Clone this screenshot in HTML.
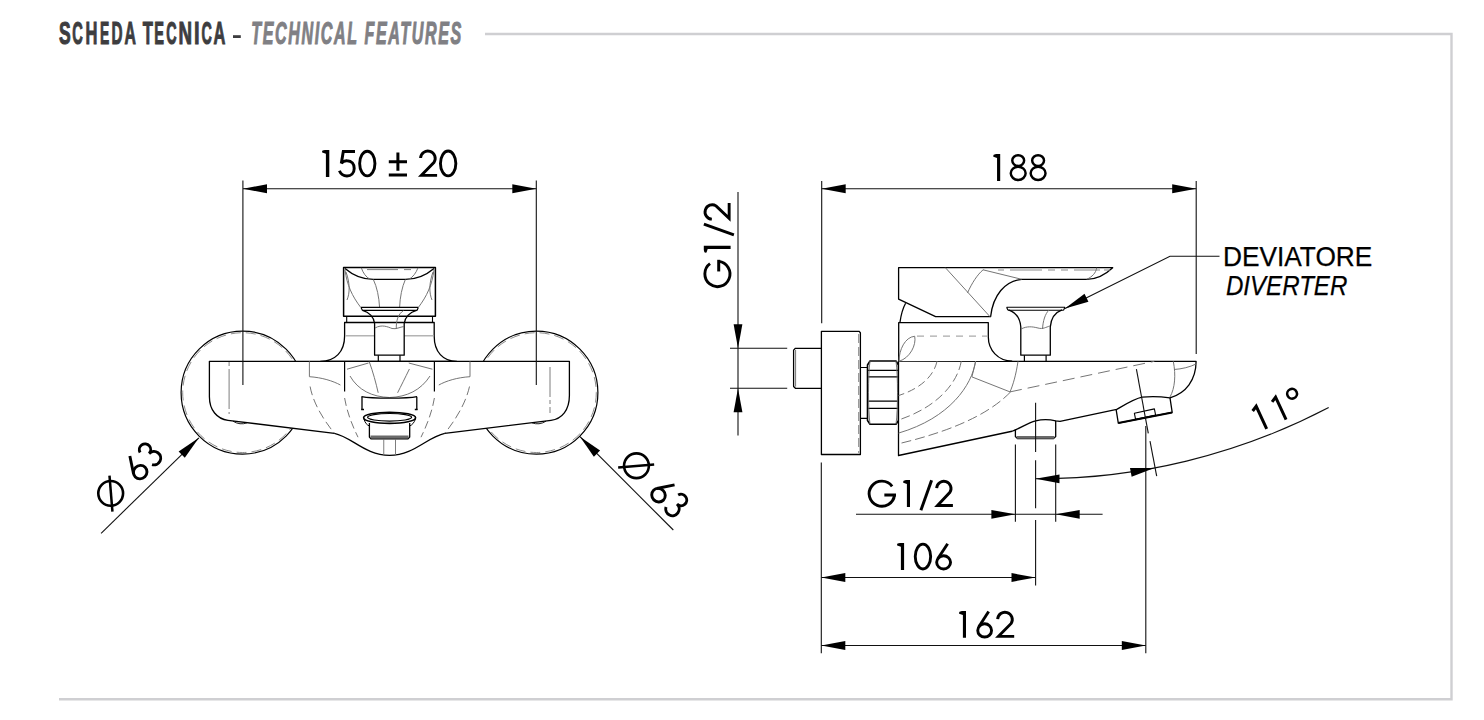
<!DOCTYPE html>
<html><head><meta charset="utf-8">
<style>
html,body{margin:0;padding:0;background:#fff;width:1484px;height:720px;overflow:hidden;}
svg{position:absolute;left:0;top:0;}
</style></head>
<body>
<svg width="1484" height="720" viewBox="0 0 1484 720">
<g id="header">
<g font-family="Liberation Sans" font-weight="bold" fill="#3d3d3f" stroke="#3d3d3f" stroke-width="1.1"><text transform="translate(59.05,44.1) scale(0.567,1)" font-size="30.9">S</text><text transform="translate(72.25,44.1) scale(0.475,1)" font-size="30.9">C</text><text transform="translate(85.45,44.1) scale(0.534,1)" font-size="30.9">H</text><text transform="translate(99.92,44.1) scale(0.450,1)" font-size="30.9">E</text><text transform="translate(111.42,44.1) scale(0.496,1)" font-size="30.9">D</text><text transform="translate(124.46,44.1) scale(0.511,1)" font-size="30.9">A</text><text transform="translate(142.86,44.1) scale(0.539,1)" font-size="30.9">T</text><text transform="translate(154.27,44.1) scale(0.473,1)" font-size="30.9">E</text><text transform="translate(166.36,44.1) scale(0.465,1)" font-size="30.9">C</text><text transform="translate(178.60,44.1) scale(0.606,1)" font-size="30.9">N</text><text transform="translate(193.90,44.1) scale(0.652,1)" font-size="30.9">I</text><text transform="translate(201.46,44.1) scale(0.465,1)" font-size="30.9">C</text><text transform="translate(213.44,44.1) scale(0.531,1)" font-size="30.9">A</text></g><rect x="233" y="35.2" width="7.8" height="2.8" fill="#3d3d3f"/><text transform="translate(251.3,44.1) scale(0.52,1)" font-family="Liberation Sans" font-weight="bold" font-style="italic" font-size="30.9" fill="#808084" stroke="#808084" stroke-width="1.1" textLength="403.85" lengthAdjust="spacing">TECHNICAL FEATURES</text>
</g>
<path d="M485 34 H1451.5 V699.3 H59" fill="none" stroke="#cfcfd2" stroke-width="2.4"/>
<g id="drawing" stroke-linejoin="round">
<circle cx="242.6" cy="392.6" r="61.5" fill="#fff" stroke="#000" stroke-width="1.2"/>
<circle cx="242.6" cy="392.6" r="59.9" fill="none" stroke="#6e6e6e" stroke-width="0.8" stroke-dasharray="10 5"/>
<circle cx="536.4" cy="392.6" r="61.5" fill="#fff" stroke="#000" stroke-width="1.2"/>
<circle cx="536.4" cy="392.6" r="59.9" fill="none" stroke="#6e6e6e" stroke-width="0.8" stroke-dasharray="10 5"/>
<path d="M320.5 361.3C335 361.3 344.6 352 344.6 336V322.5H434.2V336C434.2 352 443 361.3 456.7 361.3Z" fill="#fff" stroke="#000" stroke-width="1.3"/>
<path d="M209.4 361.3H569.4V395.5C569.4 410 562 419 551 420.3L444.8 433.3C427 437 414 455.3 389.6 455.3C365 455.3 352 437 334.4 433.3L228 420.3C217 419 209.4 410 209.4 396.7Z" fill="#fff" stroke="#000" stroke-width="1.3"/>
<path d="M233 421.2Q240 425.5 247 422.8" fill="none" stroke="#000" stroke-width="0.9"/>
<path d="M532 422.8Q539 425.5 546 421.2" fill="none" stroke="#000" stroke-width="0.9"/>
<path d="M229.1 362V414" fill="none" stroke="#6e6e6e" stroke-width="0.9" stroke-dasharray="4 3 40 3"/>
<path d="M550 367V413" fill="none" stroke="#6e6e6e" stroke-width="0.9" stroke-dasharray="30 3 4 3"/>
<path d="M346.7 316.2V322.5M432.5 316.2V322.5" fill="none" stroke="#000" stroke-width="1.1"/>
<path d="M343.6 267.5H435.4V316.25H343.6Z" fill="#fff" stroke="#000" stroke-width="1.5"/>
<path d="M345 268.5C355 277 365 279.4 373.3 279.4H405.4C414 279.4 424 277 434 268.5" fill="none" stroke="#000" stroke-width="1.4"/>
<path d="M367 269.6H398M404 269.6H411" fill="none" stroke="#6e6e6e" stroke-width="0.9"/>
<path d="M361.3 267.8C363 273 366 277 370 279.3M418 267.8C416 273 413 277 409 279.3" fill="none" stroke="#6e6e6e" stroke-width="0.95"/>
<path d="M373.3 279.4C377 287 379 297 379.6 307.5M405.4 279.4C402 287 400 297 399.6 307.5" fill="none" stroke="#6e6e6e" stroke-width="0.95"/>
<path d="M345 270C347 285 352 296 360.8 307.5M434 270C432 285 427 296 418.3 307.5" fill="none" stroke="#6e6e6e" stroke-width="0.95"/>
<path d="M346 272C350 283 350 293 347 300M433 272C429 283 429 293 432 300" fill="none" stroke="#6e6e6e" stroke-width="0.95"/>
<path d="M345.5 335.8H374.6M404.2 335.8H433.5" fill="none" stroke="#b4b4b4" stroke-width="1.5"/>
<path d="M361 307.4H418.3M362.5 310.4H417M361 307.4L362.5 310.4M418.3 307.4L417 310.4" fill="none" stroke="#000" stroke-width="1.15"/>
<path d="M362.5 310.3C369 312 374 317 374.6 323.5V355.2H404.2V323.5C405 317 410 312 416.5 310.3" fill="none" stroke="#000" stroke-width="1.3"/>
<path d="M375 328C382 324 388 327 392 328.5C396 329.5 400 327 404 326.5" fill="none" stroke="#6e6e6e" stroke-width="0.95"/>
<path d="M378.3 355.2V361.3M400 355.2V361.3" fill="none" stroke="#000" stroke-width="1.2"/>
<path d="M403.5 310.6C398 314 396 321 396.3 329" fill="none" stroke="#6e6e6e" stroke-width="0.95"/>
<path d="M344.6 361.3V391.4M434.4 361.3V391.4" fill="none" stroke="#000" stroke-width="1.2"/>
<path d="M344.6 398C347 412 352 425 358 437.2M434.4 398C432 412 427 425 421 437.2" fill="none" stroke="#6e6e6e" stroke-width="0.95" stroke-dasharray="8 4"/>
<path d="M347 369.2L368.5 363M408.75 363L432.4 369.2" fill="none" stroke="#6e6e6e" stroke-width="0.95"/>
<path d="M350 376C358 390 372 397 389.6 397.5C407 397 421 390 430 376" fill="none" stroke="#6e6e6e" stroke-width="0.95"/>
<path d="M369.2 361.5C373 372 376 383 378.2 392.8M409.4 369C405 378 401 386 397.6 392.8" fill="none" stroke="#6e6e6e" stroke-width="0.95"/>
<path d="M309.4 361.3V376.7C322 377.5 333 381 340.4 385M470 361.3V376.7C457 377.5 446 381 438.8 385" fill="none" stroke="#6e6e6e" stroke-width="0.95"/>
<path d="M310.1 386.5C313 402 322 418 334.4 433.3M469.5 386.5C466 402 457 418 444.8 433.3" fill="none" stroke="#6e6e6e" stroke-width="0.95" stroke-dasharray="9 4"/>
<path d="M361.5 396.6C372 398.6 407 398.6 417 396.6" fill="none" stroke="#000" stroke-width="1.3"/>
<path d="M362 396.8V409.8M416.8 396.8V409.8" fill="none" stroke="#000" stroke-width="1.3"/>
<path d="M361.2 409.5H364M414.8 409.5H417.6" fill="none" stroke="#000" stroke-width="1.6"/>
<ellipse cx="389.6" cy="417.8" rx="26" ry="5.6" fill="#fff" stroke="#000" stroke-width="1.6"/>
<ellipse cx="389.6" cy="417.3" rx="22" ry="3.8" fill="none" stroke="#000" stroke-width="1.2"/>
<path d="M364 419C365 423 367 425 369.4 426M415.5 419C414 423 412 425 409.7 426" fill="none" stroke="#000" stroke-width="1"/>
<path d="M369.4 423V437L371 438.9H408L409.7 437V423" fill="none" stroke="#000" stroke-width="1.3"/>
<path d="M370.5 436.8H408.5" fill="none" stroke="#6a6a6a" stroke-width="2.8"/>
<path d="M383.75 439V455M395.5 439V455" fill="none" stroke="#6e6e6e" stroke-width="0.9"/>
<path d="M821.4 348.3H795.4L793.6 350.1V386.5L795.4 388.3H821.4" fill="none" stroke="#000" stroke-width="1.3"/>
<path d="M795.6 350V386.6" fill="none" stroke="#6e6e6e" stroke-width="0.95"/>
<path d="M821.4 331.3H859L860.4 332.7V454.5H821.4Z" fill="#fff" stroke="#000" stroke-width="1.3"/>
<path d="M858.7 334V453" fill="none" stroke="#8a8a8a" stroke-width="1.1" stroke-dasharray="9 4"/>
<path d="M860.4 367.5H867.5M860.4 418.3H867.5" fill="none" stroke="#000" stroke-width="1.2"/>
<path d="M870 361H896L898.5 365V420.5L896 424.2H870L867.5 420.5V365Z" fill="#fff" stroke="#000" stroke-width="1.6"/>
<path d="M868 370.4H898M868 376.9H898M868 401.1H898M868 408.3H898" fill="none" stroke="#000" stroke-width="1.3"/>
<path d="M870 361C868 375 868 410 870 424.2M896 361C898 375 898 410 896 424.2" fill="none" stroke="#6e6e6e" stroke-width="0.95"/>
<path d="M898.5 361.3H1196.1C1196 380 1186 393 1170 397.8C1160 396.5 1150 396.3 1142.2 397.2C1135 398.5 1126 404 1116.7 409.4L1060 421.3L1055.7 420.8C1050 419.6 1042 419.4 1035.7 420.8C1027 423 1020 428.5 1012 431.25L898.5 455.5Z" fill="#fff" stroke="#000" stroke-width="1.3"/>
<path d="M1116.1 409.4L1118.3 423.1L1172.2 412.4L1170 397.8" fill="none" stroke="#000" stroke-width="1.3"/>
<path d="M1118.3 423.1L1172.2 412.4" fill="none" stroke="#000" stroke-width="2"/>
<path d="M1134.4 413.3L1154.4 408.9L1155.6 415L1135.6 419.4Z" fill="none" stroke="#000" stroke-width="1.1"/>
<path d="M1015.4 429.6V436.5L1017.5 438.6H1053.5L1055.7 436.5V420.8" fill="none" stroke="#000" stroke-width="1.3"/>
<path d="M1016.8 437.4H1054.2" fill="none" stroke="#6a6a6a" stroke-width="2.9"/>
<path d="M937 361.3C934 375 922 388 898.5 395.6" fill="none" stroke="#6e6e6e" stroke-width="0.95" stroke-dasharray="8 4"/>
<path d="M961.25 361.3C957 385 935 408 898.5 420" fill="none" stroke="#6e6e6e" stroke-width="0.95" stroke-dasharray="9 4"/>
<path d="M975.6 361.3C972 385 950 418 898.5 433.1" fill="none" stroke="#6e6e6e" stroke-width="0.95"/>
<path d="M1010.6 391.9C995 408 965 428 898.5 443.75" fill="none" stroke="#6e6e6e" stroke-width="0.95" stroke-dasharray="10 4"/>
<path d="M975.6 361.3L971.9 376.9L1010 391.9" fill="none" stroke="#6e6e6e" stroke-width="0.95"/>
<path d="M1018 361.3C1016 375 1013 385 1010 391.9" fill="none" stroke="#6e6e6e" stroke-width="0.95"/>
<path d="M1010 391.9L1154.4 361.3" fill="none" stroke="#6e6e6e" stroke-width="0.95" stroke-dasharray="12 6"/>
<path d="M1173.3 361.3C1176 375 1175 388 1170 397" fill="none" stroke="#6e6e6e" stroke-width="0.95"/>
<path d="M1174 369.5C1182 369 1190 367 1196 364" fill="none" stroke="#6e6e6e" stroke-width="0.95"/>
<path d="M898.7 361.3V322.6H988.3V336.7C988.3 350 998 361 1012.2 361.1" fill="#fff" stroke="#000" stroke-width="1.3"/>
<path d="M899 361.3C899 350 905 337 914.7 336.25C916.5 345 910 358 899 361.3" fill="none" stroke="#6e6e6e" stroke-width="0.95"/>
<path d="M917 336.1H988" fill="none" stroke="#aaa" stroke-width="1.1" stroke-dasharray="7 6"/>
<path d="M898.6 267.7H1112.7C1105 275 1095 279.3 1086.7 279.3H1021.7C1005 281 993 295 990.6 316.7H935.6L898.6 299.2Z" fill="#fff" stroke="#000" stroke-width="1.3"/>
<path d="M900 322.2C901 315 903 308 905.6 303.3" fill="none" stroke="#000" stroke-width="1.3"/>
<path d="M945.4 267.7L990 316.7" fill="none" stroke="#6e6e6e" stroke-width="0.95"/>
<path d="M967.5 292.9C972 283 977 275 983.3 269.6" fill="none" stroke="#6e6e6e" stroke-width="0.95"/>
<path d="M983 269.8L1021.7 279.3" fill="none" stroke="#6e6e6e" stroke-width="0.95"/>
<path d="M998 270H1111" fill="none" stroke="#8c8c8c" stroke-width="1.2" stroke-dasharray="6 6 32 6 7 6 7 6 26 4"/>
<path d="M1096.7 267.7C1096 273 1092 277 1086.7 279.3" fill="none" stroke="#6e6e6e" stroke-width="0.95"/>
<path d="M1006.6 307.2H1065M1008 310.2H1063.5M1006.6 307.2L1008 310.2M1065 307.2L1063.5 310.2" fill="none" stroke="#000" stroke-width="1.15"/>
<path d="M1008.5 309.8C1015 312 1020 318 1020.8 327V355.2H1050.3V327C1051 318 1056 312 1062 309.8" fill="none" stroke="#000" stroke-width="1.3"/>
<path d="M1021 329C1027 326 1032 326.5 1038 328C1043 329.5 1046 327 1050 326" fill="none" stroke="#6e6e6e" stroke-width="0.95"/>
<path d="M1049 310C1045 314 1043 321 1042.5 329" fill="none" stroke="#6e6e6e" stroke-width="0.95"/>
<path d="M1024.4 355.2V361.3M1046.1 355.2V361.3" fill="none" stroke="#000" stroke-width="1.2"/>
</g>
<g id="dims" font-family="Liberation Sans" fill="#000">
<path d="M242.9 180.6V385" fill="none" stroke="#111" stroke-width="1.1"/>
<path d="M536.3 180.6V385" fill="none" stroke="#111" stroke-width="1.1"/>
<path d="M243 188.75H536.3" fill="none" stroke="#111" stroke-width="1.1"/>
<path d="M243.00 188.75L267.00 184.35L267.00 193.15Z" fill="#000" stroke="none"/>
<path d="M536.30 188.75L512.30 193.15L512.30 184.35Z" fill="#000" stroke="none"/>
<path d="M101.1 533.3L198.9 437.8" fill="none" stroke="#111" stroke-width="1.1"/>
<path d="M198.90 437.80L184.80 457.72L178.65 451.42Z" fill="#000" stroke="none"/>
<path d="M580 436.7L673.3 530" fill="none" stroke="#111" stroke-width="1.1"/>
<path d="M580.00 436.70L600.08 450.56L593.86 456.78Z" fill="#000" stroke="none"/>
<path d="M738 192V435.6" fill="none" stroke="#111" stroke-width="1.1"/>
<path d="M738.00 348.30L733.60 324.30L742.40 324.30Z" fill="#000" stroke="none"/>
<path d="M738.00 388.30L742.40 412.30L733.60 412.30Z" fill="#000" stroke="none"/>
<path d="M730 348.3H787.2" fill="none" stroke="#111" stroke-width="1.1"/>
<path d="M730 388.3H787.2" fill="none" stroke="#111" stroke-width="1.1"/>
<path d="M821.7 181V323.3" fill="none" stroke="#111" stroke-width="1.1"/>
<path d="M1196.2 181V354" fill="none" stroke="#111" stroke-width="1.1"/>
<path d="M821.7 188.75H1196.2" fill="none" stroke="#111" stroke-width="1.1"/>
<path d="M821.70 188.75L845.70 184.35L845.70 193.15Z" fill="#000" stroke="none"/>
<path d="M1196.20 188.75L1172.20 193.15L1172.20 184.35Z" fill="#000" stroke="none"/>
<path d="M1065 308.5L1170 256.25H1219.5" fill="none" stroke="#111" stroke-width="1.1"/>
<path d="M1065.00 308.50L1084.53 293.87L1088.45 301.75Z" fill="#000" stroke="none"/>
<text x="1222.98" y="266.10" font-size="27.04" textLength="149.33" lengthAdjust="spacingAndGlyphs" stroke="#000" stroke-width="0.25">DEVIATORE</text>
<text x="1225.98" y="294.50" font-size="27.85" textLength="121.33" lengthAdjust="spacingAndGlyphs" font-style="italic" stroke="#000" stroke-width="0.25">DIVERTER</text>
<path d="M856 514.3H1102.6" fill="none" stroke="#111" stroke-width="1.1"/>
<path d="M1015.40 514.30L991.40 518.70L991.40 509.90Z" fill="#000" stroke="none"/>
<path d="M1055.70 514.30L1079.70 509.90L1079.70 518.70Z" fill="#000" stroke="none"/>
<path d="M1015.4 444.6V521.8" fill="none" stroke="#111" stroke-width="1.1"/>
<path d="M1055.7 444.6V521.8" fill="none" stroke="#111" stroke-width="1.1"/>
<path d="M821.3 577.5H1035.5" fill="none" stroke="#111" stroke-width="1.1"/>
<path d="M821.30 577.50L845.30 573.10L845.30 581.90Z" fill="#000" stroke="none"/>
<path d="M1035.50 577.50L1011.50 581.90L1011.50 573.10Z" fill="#000" stroke="none"/>
<path d="M821.3 645.5H1145.8" fill="none" stroke="#111" stroke-width="1.1"/>
<path d="M821.30 645.50L845.30 641.10L845.30 649.90Z" fill="#000" stroke="none"/>
<path d="M1145.80 645.50L1121.80 649.90L1121.80 641.10Z" fill="#000" stroke="none"/>
<path d="M821.3 462.5V653.3" fill="none" stroke="#111" stroke-width="1.1"/>
<path d="M1145.8 426.1V653.3" fill="none" stroke="#111" stroke-width="1.1"/>
<path d="M1035.6 402.8V452" fill="none" stroke="#111" stroke-width="1.1"/>
<path d="M1035.6 460.3V508.3" fill="none" stroke="#111" stroke-width="1.1"/>
<path d="M1035.6 520V585.4" fill="none" stroke="#111" stroke-width="1.1"/>
<path d="M1035.50 478.69A623 623 0 0 0 1328.70 407.51" fill="none" stroke="#111" stroke-width="1.1"/>
<path d="M1035.50 478.69L1059.53 474.44L1059.47 483.24Z" fill="#000" stroke="none"/>
<path d="M1154.40 468.01L1131.62 476.76L1130.00 468.11Z" fill="#000" stroke="none"/>
<g transform="translate(1266.25,428.3) rotate(-25)" fill="none" stroke="#000" stroke-width="3"><path d="M-5 -21.4L0.2 -24.2V0.6M16.4 -21.4L21.6 -24.2V0.6"/><circle cx="38" cy="-20.4" r="4.9" stroke-width="2.6"/></g>
<path d="M1136.4 369.1L1148.3 433.3" fill="none" stroke="#111" stroke-width="1.1"/>
<path d="M1150 441.1L1156.7 476.1" fill="none" stroke="#111" stroke-width="1.1"/>
<g transform="translate(139.6,483.4) rotate(-45)"><circle cx="-27.5" cy="-13.4" r="12.4" fill="none" stroke="#000" stroke-width="2.6"/><path d="M-39.2 0.8L-15.8 -26.8" stroke="#000" stroke-width="2.5" fill="none"/><g transform="translate(0,0)"><ellipse cx="8.40" cy="-7.55" rx="6.95" ry="6.60" fill="none" stroke="#000" stroke-width="2.9"/><path d="M12.43 -26.23L2.57 -11.14" stroke="#000" stroke-width="2.9" fill="none"/><path d="M22.24 -21.53A5.69 5.69 0 1 1 27.74 -14.38H28.04A6.71 6.71 0 1 1 22.11 -4.51" stroke="#000" stroke-width="2.9" fill="none"/></g></g>
<g transform="translate(648.7,492.4) rotate(45)"><circle cx="-27.5" cy="-10.2" r="12.4" fill="none" stroke="#000" stroke-width="2.6"/><path d="M-39.2 4L-15.8 -23.5" stroke="#000" stroke-width="2.5" fill="none"/><g transform="translate(0.5,2.6)"><ellipse cx="8.40" cy="-7.55" rx="6.95" ry="6.60" fill="none" stroke="#000" stroke-width="2.9"/><path d="M12.43 -26.23L2.57 -11.14" stroke="#000" stroke-width="2.9" fill="none"/><path d="M22.24 -21.53A5.69 5.69 0 1 1 27.74 -14.38H28.04A6.71 6.71 0 1 1 22.11 -4.51" stroke="#000" stroke-width="2.9" fill="none"/></g></g>
<path d="M329.30 149.90L329.30 177.10L325.90 177.10L325.90 153.80L322.20 152.60L322.00 151.80L322.50 150.50L324.90 149.90Z" fill="#000" stroke="none"/>
<path d="M355 151.5H343.3L341.3 163.4" stroke="#000" stroke-width="2.95" fill="none" stroke-linejoin="miter"/>
<path d="M341.3 163.4C343 161.3 345 160.6 347.1 160.8C351.8 160.8 354.2 164.3 354.2 168.4C354.2 173 351 175.9 347 175.9C343.3 175.9 340.7 173.8 339.4 170.7" stroke="#000" stroke-width="2.95" fill="none"/>
<ellipse cx="367.30" cy="163.55" rx="7.65" ry="12.30" fill="none" stroke="#000" stroke-width="2.9"/>
<path d="M397.9 152.6V170.8M388.8 161.7H407M388.8 175.05H407" stroke="#000" stroke-width="3" fill="none"/>
<path d="M420.56 157.99A7.32 7.32 0 1 1 434.08 162.25L421.40 175.35H437.10" stroke="#000" stroke-width="2.9" fill="none" stroke-linejoin="miter" stroke-miterlimit="10"/>
<ellipse cx="448.15" cy="163.45" rx="7.70" ry="12.40" fill="none" stroke="#000" stroke-width="2.9"/>
<path d="M1000.20 154.10L1000.20 180.90L997.05 180.90L997.05 158.00L993.40 156.80L993.20 156.00L993.70 154.70L996.05 154.10Z" fill="#000" stroke="none"/>
<ellipse cx="1018.20" cy="160.60" rx="5.93" ry="5.43" fill="none" stroke="#000" stroke-width="2.45"/><ellipse cx="1018.20" cy="173.35" rx="7.43" ry="6.57" fill="none" stroke="#000" stroke-width="2.45"/>
<ellipse cx="1038.10" cy="160.60" rx="5.93" ry="5.43" fill="none" stroke="#000" stroke-width="2.45"/><ellipse cx="1038.10" cy="173.35" rx="7.43" ry="6.57" fill="none" stroke="#000" stroke-width="2.45"/>
<path d="M892.12 486.32A12.70 12.55 0 1 0 894.48 495.01" stroke="#000" stroke-width="2.9" fill="none"/><path d="M884.35 495.01H896.00" stroke="#000" stroke-width="3.0" fill="none"/>
<path d="M910.00 480.10L910.00 506.90L906.90 506.90L906.90 484.00L903.30 482.80L903.10 482.00L903.60 480.70L905.90 480.10Z" fill="#000" stroke="none"/>
<path d="M920.90 510.20L931.60 480.20" stroke="#000" stroke-width="2.95" fill="none"/>
<path d="M936.66 488.15A7.18 7.18 0 1 1 949.92 492.33L937.50 505.45H952.90" stroke="#000" stroke-width="2.9" fill="none" stroke-linejoin="miter" stroke-miterlimit="10"/>
<path d="M904.10 542.90L904.10 569.90L900.90 569.90L900.90 546.80L897.20 545.60L897.00 544.80L897.50 543.50L899.90 542.90Z" fill="#000" stroke="none"/>
<ellipse cx="922.95" cy="556.55" rx="7.70" ry="12.40" fill="none" stroke="#000" stroke-width="2.9"/>
<ellipse cx="943.60" cy="562.35" rx="6.95" ry="6.60" fill="none" stroke="#000" stroke-width="2.9"/><path d="M947.63 543.67L937.77 558.76" stroke="#000" stroke-width="2.9" fill="none"/>
<path d="M966.00 611.10L966.00 637.80L962.90 637.80L962.90 615.00L959.20 613.80L959.00 613.00L959.50 611.70L961.90 611.10Z" fill="#000" stroke="none"/>
<ellipse cx="984.65" cy="630.40" rx="6.90" ry="6.65" fill="none" stroke="#000" stroke-width="2.9"/><path d="M988.66 611.57L978.84 626.82" stroke="#000" stroke-width="2.9" fill="none"/>
<path d="M997.66 619.19A7.32 7.32 0 1 1 1011.18 623.45L998.50 636.35H1014.20" stroke="#000" stroke-width="2.9" fill="none" stroke-linejoin="miter" stroke-miterlimit="10"/>
<g transform="translate(730.7,288.1) rotate(-90) translate(-867.7,-507)"><path d="M892.12 486.32A12.70 12.55 0 1 0 894.48 495.01" stroke="#000" stroke-width="2.9" fill="none"/><path d="M884.35 495.01H896.00" stroke="#000" stroke-width="3.0" fill="none"/><path d="M910.00 480.10L910.00 506.90L906.90 506.90L906.90 484.00L903.30 482.80L903.10 482.00L903.60 480.70L905.90 480.10Z" fill="#000" stroke="none"/><path d="M920.90 510.20L931.60 480.20" stroke="#000" stroke-width="2.95" fill="none"/><path d="M936.66 488.15A7.18 7.18 0 1 1 949.92 492.33L937.50 505.45H952.90" stroke="#000" stroke-width="2.9" fill="none" stroke-linejoin="miter" stroke-miterlimit="10"/></g>
</g>
</svg>
</body></html>
